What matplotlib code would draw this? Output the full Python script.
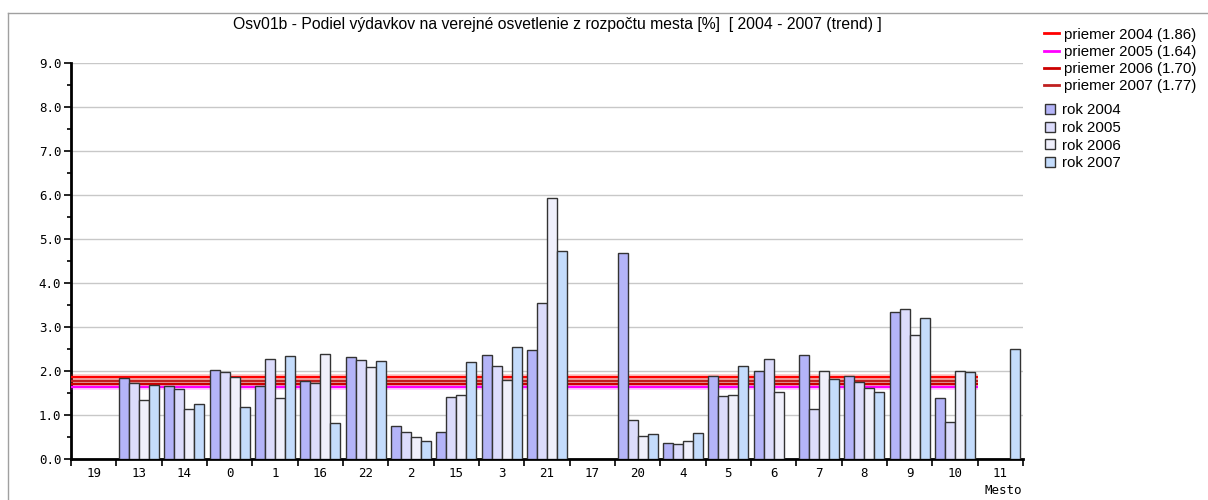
import numpy as np
import matplotlib
matplotlib.use("Agg")
import matplotlib.pyplot as plt
from matplotlib.lines import Line2D

# Data
mesta = ["19", "13", "14", "0", "1", "16", "22", "2", "15", "3", "21",
         "17", "20", "4", "5", "6", "7", "8", "9", "10", "11"]
nan = np.nan
rok_2004 = [nan, 1.83, 1.66, 2.03, 1.67, 1.77, 2.31, 0.76, 0.62, 2.37, 2.48,
            nan, 4.68, 0.37, 1.89, 2.00, 2.37, 1.89, 3.33, 1.39, nan]
rok_2005 = [nan, 1.72, 1.58, 1.97, 2.28, 1.72, 2.25, 0.62, 1.42, 2.12, 3.55,
            nan, 0.88, 0.34, 1.44, 2.28, 1.13, 1.74, 3.41, 0.85, nan]
rok_2006 = [nan, 1.33, 1.13, 1.86, 1.38, 2.39, 2.08, 0.49, 1.46, 1.80, 5.94,
            nan, 0.52, 0.42, 1.46, 1.52, 2.00, 1.61, 2.82, 2.00, nan]
rok_2007 = [nan, 1.69, 1.24, 1.18, 2.34, 0.82, 2.23, 0.42, 2.20, 2.54, 4.73,
            nan, 0.57, 0.60, 2.12, nan, 1.81, 1.52, 3.21, 1.97, 2.49]
roky = ["2004", "2005", "2006", "2007"]
priemery = [1.86, 1.64, 1.70, 1.77]

bar_colors = ["#b4b4f8", "#dcdcfc", "#f0f0fc", "#c4dcfc"]
line_colors = ["#ff0000", "#ff00ff", "#cc0000", "#c02020"]

mono = "DejaVu Sans Mono"
sans = "Liberation Sans"

fig = plt.figure(figsize=(12.08, 5.0), dpi=100)
ax = fig.add_axes([71 / 1208, 1 - 459 / 500, (1023 - 71) / 1208, (459 - 63) / 500])

x = np.arange(len(mesta))
w = 0.22
series = [rok_2004, rok_2005, rok_2006, rok_2007]
for i, vals in enumerate(series):
    ax.bar(x + (i - 1.5) * w, vals, width=w, color=bar_colors[i],
           edgecolor="#333333", linewidth=1.0, zorder=5)

# average lines over the first 20 towns (behind the bars)
for val, col in zip(priemery, line_colors):
    ax.hlines(val, -0.5, 19.5, color=col, linewidth=4, alpha=0.25, zorder=3)
for val, col in zip(priemery, line_colors):
    ax.hlines(val, -0.5, 19.5, color=col, linewidth=1.5, zorder=4)

ax.set_xlim(-0.5, len(mesta) - 0.5)
ax.set_ylim(0, 9)
ax.set_yticks(np.arange(0, 9.1, 1.0))
ax.set_yticklabels([f"{v:.1f}" for v in np.arange(0, 9.1, 1.0)], family=mono, fontsize=9)
ax.set_yticks(np.arange(0.5, 9, 1.0), minor=True)
ax.yaxis.grid(True, which="major", color="#c8c8c8", linewidth=1.0, zorder=0)

ax.set_xticks(x)
ax.set_xticklabels(mesta, family=mono, fontsize=9)
ax.set_xticks(np.arange(-0.5, len(mesta), 1.0), minor=True)
ax.tick_params(axis="x", which="major", length=0, pad=6)
ax.tick_params(axis="x", which="minor", length=5, width=1.2, color="black")
ax.tick_params(axis="y", which="major", length=5, width=1.2, pad=2)
ax.tick_params(axis="y", which="minor", length=3, width=1.2)

for s in ["top", "right"]:
    ax.spines[s].set_visible(False)
ax.spines["left"].set_linewidth(2)
ax.spines["bottom"].set_linewidth(2)

fig.text(1003 / 1208, 1 - 491 / 500, "Mesto", family=mono, fontsize=9,
         ha="center", va="center")
fig.text(557 / 1208, 1 - 25 / 500,
         "Osv01b - Podiel výdavkov na verejné osvetlenie z rozpočtu mesta [%]  [ 2004 - 2007 (trend) ]",
         family=sans, fontsize=11.3, ha="center", va="center")

line_handles = [Line2D([], [], color=c, linewidth=2) for c in line_colors]
line_labels = [f"priemer {r} ({v:.2f})" for r, v in zip(roky, priemery)]
bar_handles = [Line2D([], [], linestyle="none", marker="s", markersize=7.5,
                      markerfacecolor=c, markeredgecolor="#333333",
                      markeredgewidth=1.0) for c in bar_colors]
bar_labels = [f"rok {r}" for r in roky]

fig.legend(line_handles, line_labels, loc="upper left",
           bbox_to_anchor=(1036 / 1208, 1 - 20 / 500),
           frameon=False, prop={"family": sans, "size": 10.8}, labelspacing=0.22,
           handlelength=1.0, handletextpad=0.4, borderpad=0)
fig.legend(bar_handles, bar_labels, loc="upper left",
           bbox_to_anchor=(1036 / 1208, 1 - 96 / 500),
           frameon=False, prop={"family": sans, "size": 10.8}, labelspacing=0.24,
           handlelength=0.8, handletextpad=0.4, borderpad=0)

# outer grey frame
fig.add_artist(Line2D([8 / 1208, 1], [1 - 13 / 500, 1 - 13 / 500], color="#a0a0a0", linewidth=1))
fig.add_artist(Line2D([8 / 1208, 8 / 1208], [0, 1 - 13 / 500], color="#a0a0a0", linewidth=1))

fig.savefig("out.png", dpi=100)
